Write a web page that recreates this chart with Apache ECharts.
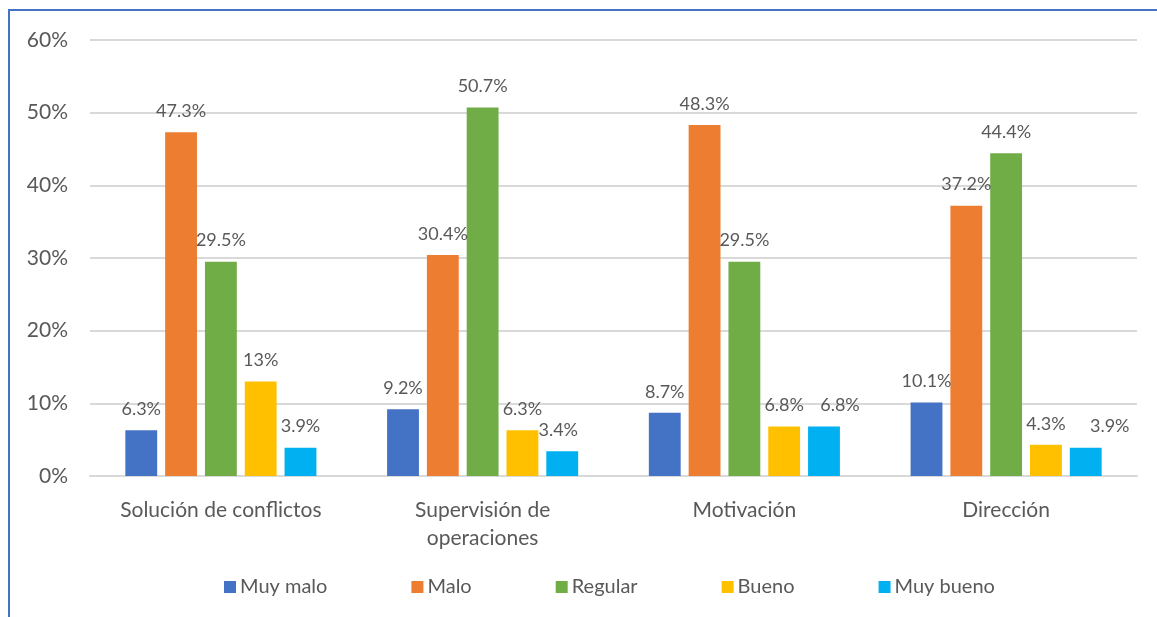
<!DOCTYPE html>
<html>
<head>
<meta charset="utf-8">
<script src="https://cdn.jsdelivr.net/npm/echarts@6/dist/echarts.min.js"></script>
<style>
  html, body { margin: 0; padding: 0; background: #ffffff; }
  #chart { width: 1157px; height: 617px; }
</style>
</head>
<body>
<div id="chart"></div>
<script>
// Ratings per management dimension (percent of respondents)
const categories = ['Solución de conflictos', 'Supervisión de\noperaciones', 'Motivación', 'Dirección'];
const seriesNames = ['Muy malo', 'Malo', 'Regular', 'Bueno', 'Muy bueno'];
const muyMalo  = [6.3, 9.2, 8.7, 10.1];
const malo     = [47.3, 30.4, 48.3, 37.2];
const regular  = [29.5, 50.7, 29.5, 44.4];
const bueno    = [13, 6.3, 6.8, 4.3];
const muyBueno = [3.9, 3.4, 6.8, 3.9];
const colors = ['#4472C4', '#ED7D31', '#70AD47', '#FFC000', '#00B0F0'];

const values = [muyMalo, malo, regular, bueno, muyBueno];
const textColor = '#595959';
const fontFamily = 'Lato, "Open Sans", sans-serif';

// Hand-placed data labels that were nudged sideways to avoid crowding: [series, category, dx]
const labelNudges = [[4, 3, 24], [4, 2, 16], [4, 1, -4]];

function seriesData(si) {
  return values[si].map((v, ci) => {
    const nudge = labelNudges.find(n => n[0] === si && n[1] === ci);
    return nudge ? { value: v, label: { offset: [nudge[2], 0] } } : v;
  });
}

const chart = echarts.init(document.getElementById('chart'), null, { renderer: 'canvas' });

chart.setOption({
  animation: false,
  textStyle: { fontFamily: fontFamily },
  color: colors,
  graphic: [{
    type: 'rect',
    silent: true,
    shape: { x: 9, y: 10, width: 1300, height: 800 },
    style: { fill: 'none', stroke: '#4472C4', lineWidth: 2 }
  }],
  grid: { left: 90, right: 20, top: 40, bottom: 141 },
  legend: {
    top: 572,
    left: 219,
    itemWidth: 12,
    itemHeight: 12,
    itemGap: 84,
    icon: 'rect',
    textStyle: { color: textColor, fontSize: 20, fontFamily: fontFamily, padding: [0, 0, 0, -1] },
    data: seriesNames
  },
  xAxis: {
    type: 'category',
    data: categories,
    axisLine: { show: true, lineStyle: { color: '#D9D9D9', width: 2 } },
    axisTick: { show: false },
    axisLabel: { interval: 0, color: textColor, fontSize: 21, margin: 20, lineHeight: 28, fontFamily: fontFamily }
  },
  yAxis: {
    type: 'value',
    min: 0,
    max: 60,
    interval: 10,
    axisLine: { show: false },
    axisTick: { show: false },
    axisLabel: { color: textColor, fontSize: 21, margin: 22, formatter: '{value}%', fontFamily: fontFamily },
    splitLine: { lineStyle: { color: '#D9D9D9', width: 2 } }
  },
  series: seriesNames.map((name, i) => ({
    name: name,
    type: 'bar',
    data: seriesData(i),
    barGap: '25%',
    barCategoryGap: '27%',
    itemStyle: { color: colors[i] },
    label: {
      show: true,
      position: 'top',
      distance: 12,
      color: textColor,
      fontSize: 18,
      fontFamily: fontFamily,
      formatter: p => p.value + '%'
    }
  }))
});
</script>
</body>
</html>
